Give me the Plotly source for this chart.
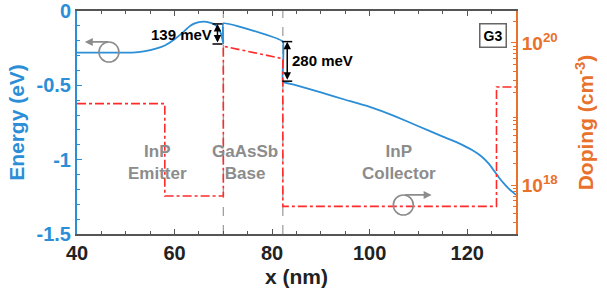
import plotly.graph_objects as go

# ---------------- data ----------------
# conduction band energy (eV) vs position (nm)
energy_x = [40, 50, 52, 54, 56, 58, 60, 62, 63, 64, 65, 66, 67, 68, 69, 69.6, 70,
            70, 82.2,
            82.2, 85, 90, 95, 100, 105, 110, 115, 118, 121, 123, 124.5, 125.5, 126.5, 127.5, 128.5, 130]
energy_e = [-0.28, -0.28, -0.278, -0.27, -0.255, -0.232, -0.19, -0.135, -0.105, -0.085, -0.075, -0.072, -0.076, -0.088, -0.115, -0.16, -0.22,
            -0.083, -0.206,
            -0.475, -0.50, -0.548, -0.597, -0.645, -0.705, -0.775, -0.845, -0.885, -0.935, -0.98, -1.03, -1.075, -1.12, -1.16, -1.195, -1.237]

# doping profile (cm^-3)
doping_x = [40, 58, 58, 70, 70, 82.2, 82.2, 126, 126, 130]
doping_n = [1.4e19, 1.4e19, 7e17, 7e17, 9e19, 6e19, 5e17, 5e17, 2.4e19, 2.4e19]

interfaces = [70, 82.2]

region_x = [56.6, 74.4, 106]
region_labels = ["InP<br>Emitter", "GaAsSb<br>Base", "InP<br>Collector"]

offsets = [  # (x, E top, E bottom, label, label x, label E)
    (68.8, -0.087, -0.222, "139 meV", 61.4, -0.155),
    (83.1, -0.206, -0.472, "280 meV", 90.4, -0.33),
]

y_tickvals = [0, -0.5, -1, -1.5]
y_ticktext = ["0", "-0.5", "-1", "-1.5"]
y2_tickvals = [1e18, 1e20]
y2_ticktext = ["10<sup>18</sup>", "10<sup>20</sup>"]

BLUE = "#2B8ED6"
ORANGE = "#E8712B"
RED = "#FF2B2B"
GRAY = "#8C8C8C"
DARK = "#555555"
FONT = "Liberation Sans"

fig = go.Figure()

fig.add_trace(go.Scatter(x=doping_x, y=doping_n, mode="lines", yaxis="y2",
                         line=dict(color=RED, width=1.6, dash="dashdot"),
                         showlegend=False, hoverinfo="skip"))
fig.add_trace(go.Scatter(x=energy_x, y=energy_e, mode="lines", yaxis="y",
                         line=dict(color=BLUE, width=1.8, shape="spline", smoothing=0.3),
                         showlegend=False, hoverinfo="skip"))

shapes = []
for xi in interfaces:
    shapes.append(dict(type="line", xref="x", yref="paper", x0=xi, x1=xi, y0=0, y1=1,
                       line=dict(color="#9A9A9A", width=1.2, dash="dash"), layer="below"))

# measurement caps
for (xm, et, eb, lab, lx, ly) in offsets:
    for ev in (et, eb):
        shapes.append(dict(type="line", xref="x", yref="y", xsizemode="pixel", xanchor=xm,
                           x0=-5, x1=5, y0=ev, y1=ev, line=dict(color="black", width=1.5)))

# circles for axis indicators
circ = [(46.55, -0.276), (106.9, -1.305)]
for (cx, cy) in circ:
    shapes.append(dict(type="circle", xref="x", yref="y", xsizemode="pixel", ysizemode="pixel",
                       xanchor=cx, yanchor=cy, x0=-10, x1=10, y0=-10, y1=10,
                       line=dict(color=GRAY, width=1.6)))

annotations = []
for (xm, et, eb, lab, lx, ly) in offsets:
    annotations.append(dict(x=xm, y=et, ax=xm, ay=eb, xref="x", yref="y", axref="x", ayref="y",
                            text="", showarrow=True, arrowhead=2, arrowside="end+start",
                            arrowsize=1, arrowwidth=1.5, arrowcolor="black", standoff=0, startstandoff=0))
    annotations.append(dict(x=lx, y=ly, xref="x", yref="y", text="<b>%s</b>" % lab, showarrow=False,
                            font=dict(family=FONT, size=15, color="black")))

for rx, rl in zip(region_x, region_labels):
    annotations.append(dict(x=rx, y=-1.02, xref="x", yref="y", text="<b>%s</b>" % rl, showarrow=False,
                            font=dict(family=FONT, size=17, color=GRAY)))

# axis-indicator arrows
annotations.append(dict(x=41.6, y=-0.208, xref="x", yref="y", ax=25, ay=0, text="", showarrow=True,
                        arrowhead=2, arrowsize=1, arrowwidth=1.6, arrowcolor=GRAY))
annotations.append(dict(x=112.7, y=-1.237, xref="x", yref="y", ax=-28, ay=0, text="", showarrow=True,
                        arrowhead=2, arrowsize=1, arrowwidth=1.6, arrowcolor=GRAY))

annotations.append(dict(x=125.3, y=-0.168, xref="x", yref="y", text="<b>G3</b>", showarrow=False,
                        font=dict(family=FONT, size=14, color="black"),
                        bordercolor="#666666", borderwidth=1.5, borderpad=3, bgcolor="white"))

minor_log = [float(m) * 10.0 ** e for e in range(17, 21) for m in range(2, 10)]

fig.update_layout(
    width=607, height=295,
    margin=dict(l=77, r=91, t=11, b=61, autoexpand=False),
    plot_bgcolor="white", paper_bgcolor="white",
    font=dict(family=FONT),
    shapes=shapes, annotations=annotations,
    xaxis=dict(range=[40, 130], tickvals=[40, 60, 80, 100, 120], ticks="inside", ticklen=5,
               tickwidth=1.2, tickcolor=DARK, showline=True, linecolor=DARK, linewidth=2,
               mirror="ticks", showgrid=False, zeroline=False, automargin=False,
               minor=dict(dtick=5, ticks="inside", ticklen=3, tickcolor=DARK, showgrid=False),
               tickfont=dict(family=FONT, size=20, color="#222222", weight="bold"),
               title=dict(text="<b>x (nm)</b>", font=dict(family=FONT, size=21, color="#222222"), standoff=6)),
    yaxis=dict(range=[-1.5, 0], tickvals=y_tickvals, ticktext=y_ticktext, ticks="inside", ticklen=5,
               tickwidth=1.2, tickcolor=BLUE, showline=True, linecolor=BLUE, linewidth=2,
               showgrid=False, zeroline=False, automargin=False,
               minor=dict(dtick=0.1, ticks="inside", ticklen=3, tickcolor=BLUE, showgrid=False),
               tickfont=dict(family=FONT, size=20, color=BLUE, weight="bold"),
               title=dict(text="<b>Energy (eV)</b>", font=dict(family=FONT, size=21, color=BLUE), standoff=6)),
    yaxis2=dict(type="log", range=[17.31, 20.45], overlaying="y", side="right", anchor="x",
                tickvals=y2_tickvals, ticktext=y2_ticktext, ticks="inside", ticklen=5, tickwidth=1.2,
                tickcolor=ORANGE, showline=True, linecolor=ORANGE, linewidth=2, showgrid=False,
                zeroline=False, automargin=False,
                minor=dict(tickvals=minor_log, ticks="inside", ticklen=3, tickcolor=ORANGE, showgrid=False),
                tickfont=dict(family=FONT, size=19, color=ORANGE, weight="bold"),
                title=dict(text="<b>Doping (cm<sup>-3</sup>)</b>", font=dict(family=FONT, size=21, color=ORANGE),
                           standoff=22)),
)

fig.write_html("out.html", post_script="document.body.style.margin='0';",
               config={"displayModeBar": False})
